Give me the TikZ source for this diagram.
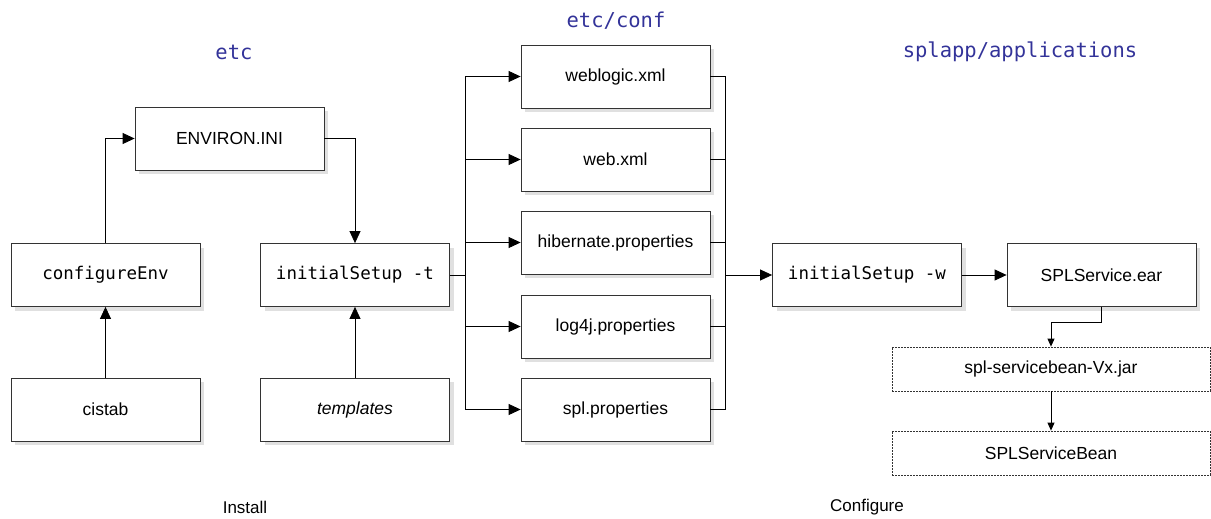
\documentclass[tikz,border=0pt]{standalone}
\usepackage{fontspec}
\setmainfont{Liberation Sans}
\setmonofont{DejaVu Sans Mono}
\usetikzlibrary{arrows.meta,shadows}
\definecolor{dirblue}{HTML}{333399}
\begin{document}
	\begin{tikzpicture}[x=1pt,y=-1pt,line width=0.8pt,
		box/.style={draw=black!80,fill=white,minimum width=189pt,minimum height=63pt,
			font=\fontsize{17.5}{20}\selectfont,
			general shadow={fill=black!12,shadow xshift=4pt,shadow yshift=-4pt}},
		jarbox/.style={draw=black!80,fill=white,dash pattern=on 2pt off 1pt,minimum width=318pt,
			minimum height=44pt,font=\fontsize{17.5}{20}\selectfont},
		dir/.style={text=dirblue,font=\ttfamily\fontsize{20.5}{24}\selectfont},
		lab/.style={font=\fontsize{17}{20}\selectfont},
		arr/.style={-{Triangle[length=12pt,width=11pt]}},
		arrsmall/.style={-{Triangle[length=8pt,width=7pt]}}]
		\useasboundingbox (0,0) rectangle (1211,519);
		\node[dir] (etc) at (234,52) {etc};
		\node[dir] (conf) at (616,21) {etc/conf};
		\node[dir] (apps) at (1020,52) {splapp/applications};
		\node[box] (env) at (229.5,138.5) {ENVIRON.INI};
		\node[box] (cfg) at (105.5,275) {\ttfamily configureEnv};
		\node[box] (cis) at (105.5,409.5) {cistab};
		\node[box] (ini) at (355,275) {\ttfamily initialSetup -t};
		\node[box] (tpl) at (355,409.5) {\itshape templates};
		\node[box] (wl) at (615.5,76.5) {weblogic.xml};
		\node[box] (web) at (615.5,159.5) {web.xml};
		\node[box] (hib) at (615.5,242.5) {hibernate.properties};
		\node[box] (log) at (615.5,326.5) {log4j.properties};
		\node[box] (spl) at (615.5,409.5) {spl.properties};
		\node[box] (iw) at (867,275) {\ttfamily initialSetup -w};
		\node[box] (ear) at (1101.5,275) {SPLService.ear};
		\node[jarbox] (jar) at (1051,369) {spl-servicebean-Vx.jar};
		\node[jarbox] (bean) at (1051,453) {SPLServiceBean};
		\node[lab] (inst) at (245,507) {Install};
		\node[lab] (conf2) at (867,507) {Configure};
		\coordinate (lbus) at (465,275);
		\coordinate (rbus) at (725,275);
		\draw[arr] (cis) -- (cfg);
		\draw[arr] (tpl) -- (ini);
		\draw[arr] (cfg.north) |- (env.west);
		\draw[arr] (env.east) -| (ini.north);
		\draw (ini) -- (lbus);
		\draw (lbus |- wl.west) -- (lbus |- spl.west);
		\draw (rbus |- wl.east) -- (rbus |- spl.east);
		\foreach \f in {wl,web,hib,log,spl} {
			\draw[arr] (lbus |- \f.west) -- (\f.west);
			\draw (\f.east) -- (rbus |- \f.east);
		}
		\draw[arr] (rbus) -- (iw);
		\draw[arr] (iw) -- (ear);
		\draw[arrsmall] (ear.south) -- ++(0,15) -| (jar.north);
		\draw[arrsmall] (jar) -- (bean);
	\end{tikzpicture}
\end{document}
